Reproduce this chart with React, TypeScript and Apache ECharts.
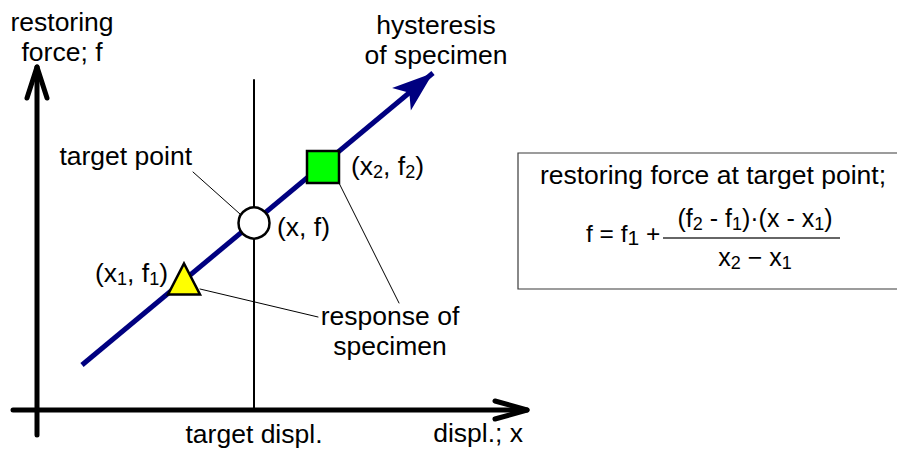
import React, { useEffect, useRef } from "react";
import * as echarts from "echarts";

// Diagram coordinates: origin at the crossing of the two axes, y upwards.
const xAxisLine: number[][] = [[-24, 0], [490, 0]];
const xAxisArrow: number[][] = [[458, 9], [490, 0], [458, -9]];
const yAxisLine: number[][] = [[0, -25], [0, 343]];
const yAxisArrow: number[][] = [[-10, 312], [0, 343], [10, 312]];
const targetDispl = 217;
const targetLine: number[][] = [[targetDispl, 0], [targetDispl, 330]];
const hysteresis: number[][] = [[45, 45], [396, 337]];
const point1: number[] = [147, 131]; // (x1, f1)
const point2: number[] = [286, 243]; // (x2, f2)
const targetPoint: number[] = [targetDispl, 187]; // (x, f)
const leaderTarget: number[][] = [[156, 238], [203, 196]];
const leaderResponse2: number[][] = [[302, 227], [362, 107]];
const leaderResponse1: number[][] = [[163, 121], [281, 93]];

const FONT = "'Liberation Sans', Arial, Helvetica, sans-serif";

export default function App() {
  const ref = useRef<HTMLDivElement>(null);
  useEffect(() => {
    if (!ref.current) return;
    const chart = echarts.init(ref.current, null, { renderer: "svg" });
    const polyline = (data: number[][], color: string, width: number, z = 2) => ({
      type: "line",
      data,
      showSymbol: false,
      symbol: "none",
      silent: true,
      z,
      lineStyle: { color, width, cap: "round", join: "round" },
    });
    const sub = { fontSize: 18, lineHeight: 13, verticalAlign: "bottom", fontFamily: FONT, fill: "#000" };
    const sub1 = { fontSize: 21, lineHeight: 20, verticalAlign: "bottom", fontFamily: FONT, fill: "#000" };
    const txt = (text: string, x: number, y: number, align: string, extra: any = {}) => ({
      type: "text",
      x,
      y,
      z: 50,
      style: {
        text,
        fontFamily: FONT,
        fontSize: 26.5,
        lineHeight: 30,
        fill: "#000",
        align,
        verticalAlign: "middle",
        rich: { s: sub, t: sub1 },
        ...extra,
      },
    });
    chart.setOption({
      animation: false,
      grid: { left: 0, right: 0, top: 0, bottom: 0 },
      xAxis: { type: "value", min: -37, max: 860, show: false },
      yAxis: { type: "value", min: -40, max: 410, show: false },
      series: [
        polyline(xAxisLine, "#000", 5),
        polyline(xAxisArrow, "#000", 5),
        polyline(yAxisLine, "#000", 5),
        polyline(yAxisArrow, "#000", 5),
        polyline(targetLine, "#000", 2),
        polyline(leaderTarget, "#000", 1),
        polyline(leaderResponse2, "#000", 1),
        polyline(leaderResponse1, "#000", 1),
        {
          type: "lines",
          coordinateSystem: "cartesian2d",
          z: 5,
          silent: true,
          symbol: ["none", "arrow"],
          symbolSize: [1, [22, 41]],
          lineStyle: { color: "#000080", width: 5, opacity: 1, curveness: 0 },
          data: [{ coords: hysteresis }],
        },
        {
          type: "scatter",
          z: 10,
          silent: true,
          data: [
            { value: point1, symbol: "triangle", symbolSize: [32, 31], itemStyle: { color: "#ffff00" } },
            { value: targetPoint, symbol: "circle", symbolSize: 31, itemStyle: { color: "#ffffff" } },
            { value: point2, symbol: "rect", symbolSize: 32, itemStyle: { color: "#00ff00" } },
          ],
          itemStyle: { borderColor: "#000", borderWidth: 2.5, opacity: 1 },
        },
      ],
      graphic: [
        txt("restoring\nforce; f", 62, 37, "center"),
        txt("hysteresis\nof specimen", 436, 40, "center"),
        txt("target point", 192, 156, "right"),
        txt("(x{s|2}, f{s|2})", 351, 166, "left"),
        txt("(x, f)", 277, 227, "left"),
        txt("(x{s|1}, f{s|1})", 95, 273, "left"),
        txt("response of\nspecimen", 390, 331, "center"),
        txt("target displ.", 254, 434, "center"),
        txt("displ.; x", 523, 433, "right"),
        {
          type: "polyline",
          z: 40,
          shape: { points: [[930, 153], [518, 153], [518, 289], [930, 289]] },
          style: { fill: "none", stroke: "#3a3a3a", lineWidth: 1.2 },
        },
        txt("restoring force at target point;", 713, 175, "center"),
        txt("f = f{t|1} +", 586, 233, "left", { fontSize: 24.5 }),
        txt("(f{s|2} - f{s|1})\u00b7(x - x{s|1})", 755, 218, "center", { fontSize: 25 }),
        {
          type: "line",
          z: 40,
          shape: { x1: 663, y1: 238, x2: 840, y2: 238 },
          style: { stroke: "#333", lineWidth: 1.5 },
        },
        txt("x{s|2} \u2212 x{s|1}", 755, 257, "center", { fontSize: 25 }),
      ],
    });
    return () => chart.dispose();
  }, []);
  return (
    <div
      ref={ref}
      style={{ position: "fixed", left: 0, top: 0, width: 897, height: 450, background: "#fff" }}
    />
  );
}
